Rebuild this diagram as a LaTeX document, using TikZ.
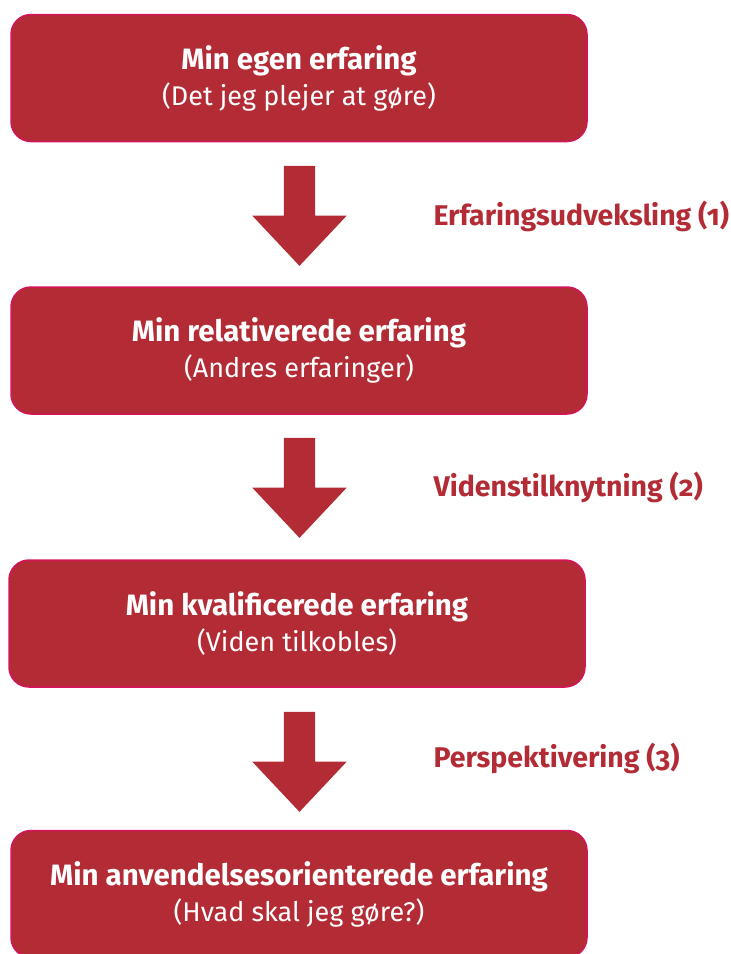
\documentclass[tikz,border=0pt]{standalone}
\usepackage{fontspec}
\setmainfont{Fira Sans}
\usepackage{tikz}
\usetikzlibrary{shapes.arrows}

\definecolor{boxred}{HTML}{B32B35}
\definecolor{boxedge}{HTML}{D4145A}

\newcommand{\boxtitle}[1]{{\fontsize{29.5}{36}\selectfont\bfseries #1}}

\tikzset{
  stepbox/.style={draw=boxedge, line width=1.5pt, fill=boxred, rounded corners=20pt,
    minimum width=576pt, minimum height=127pt, text=white, align=center,
    font=\fontsize{27}{36}\selectfont},
  downarrow/.style={single arrow, fill=boxred, draw=none, rotate=-90,
    minimum height=100pt, inner xsep=0pt, inner ysep=15.5pt,
    single arrow head extend=31.5pt, single arrow tip angle=86.5},
  steplabel/.style={anchor=west, text=boxred,
    font=\fontsize{28.5}{30}\selectfont\bfseries\addfontfeatures{Numbers=OldStyle}}
}

\begin{document}
\begin{tikzpicture}[x=1pt,y=-1pt]
\useasboundingbox (0,0) rectangle (731,954);

\node[stepbox] (egen) at (299,78) {\boxtitle{Min egen erfaring}\\(Det jeg plejer at gøre)};
\node[stepbox] (relativ) at (299,350.5) {\boxtitle{Min relativerede erfaring}\\(Andres erfaringer)};
\node[stepbox] (kval) at (297,623.5) {\boxtitle{Min kvalificerede erfaring}\\(Viden tilkobles)};
\node[stepbox] (anvend) at (299,894) {\boxtitle{Min anvendelsesorienterede erfaring}\\(Hvad skal jeg gøre?)};

\node[downarrow] (pil1) at (299.5,207.5) {};
\node[downarrow] (pil2) at (299.5,479.5) {};
\node[downarrow] (pil3) at (299.5,753.5) {};

\node[steplabel] (udveks) at (430,216) {Erfaringsudveksling (1)};
\node[steplabel] (viden) at (430,487) {Videnstilknytning (2)};
\node[steplabel] (persp) at (430,758) {Perspektivering (3)};
\end{tikzpicture}
\end{document}
